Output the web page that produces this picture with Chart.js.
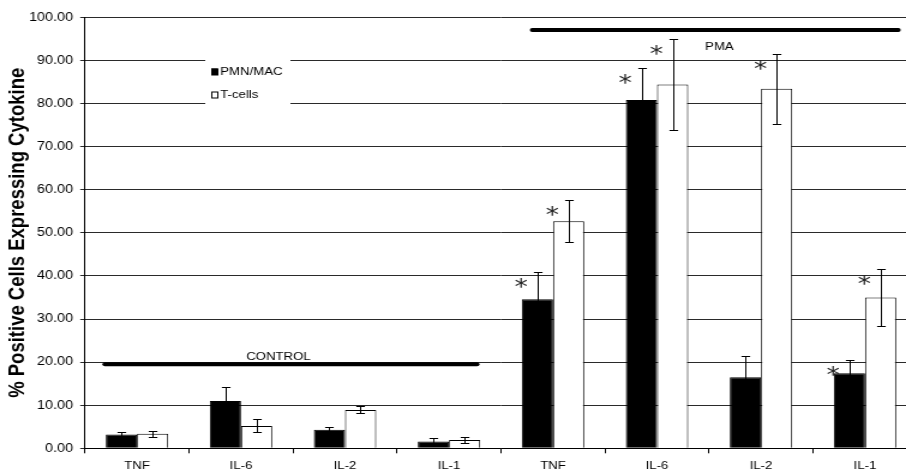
<!DOCTYPE html>
<html>
<head>
<meta charset="utf-8">
<script src="https://cdn.jsdelivr.net/npm/chart.js@4"></script>
<style>
  html, body { margin: 0; padding: 0; background: #fff; overflow: hidden; }
  #wrap { width: 766px; height: 474px; transform: scaleX(1.2); transform-origin: 0 0; }
</style>
</head>
<body>
<div id="wrap"><canvas id="chart" width="766" height="474"></canvas></div>
<script>
// Cytokine categories: first four are the control condition, last four after PMA
const categories = ['TNF', 'IL-6', 'IL-2', 'IL-1', 'TNF', 'IL-6', 'IL-2', 'IL-1'];

// % positive cells (mean) and error (SE) per cell type
const pmnMac    = [3.2, 11.0, 4.3, 1.6, 34.6, 80.8, 16.5, 17.4];
const pmnMacErr = [0.6, 3.3, 0.6, 0.9, 6.3, 7.5, 4.9, 3.2];
const tCells    = [3.4, 5.2, 8.9, 1.9, 52.7, 84.4, 83.4, 35.0];
const tCellsErr = [0.7, 1.5, 0.8, 0.7, 4.9, 10.5, 8.1, 6.6];

// significance flags (asterisk above the bar)
const pmnMacSig = [false, false, false, false, true, true, false, true];
const tCellsSig = [false, false, false, false, true, true, true, true];

// y axis ticks
const yTicks = [0, 10, 20, 30, 40, 50, 60, 70, 80, 90, 100];

const FONT = "'Liberation Sans', Arial, Helvetica, sans-serif";

// error bars with flat caps, drawn over each bar
const errorBars = {
  id: 'errorBars',
  afterDatasetsDraw(chart) {
    const ctx = chart.ctx, ys = chart.scales.y;
    ctx.save();
    ctx.strokeStyle = '#000';
    ctx.lineWidth = 1;
    chart.data.datasets.forEach((ds, di) => {
      chart.getDatasetMeta(di).data.forEach((bar, i) => {
        const v = ds.data[i], e = ds.errors[i];
        const top = Math.round(ys.getPixelForValue(v + e)) + 0.5;
        const bot = Math.round(ys.getPixelForValue(v - e)) + 0.5;
        const x = Math.round(bar.x) + 0.5;
        const cap = 3.6;
        ctx.beginPath();
        ctx.moveTo(x, top); ctx.lineTo(x, bot);
        ctx.moveTo(x - cap, top); ctx.lineTo(x + cap, top);
        ctx.moveTo(x - cap, bot); ctx.lineTo(x + cap, bot);
        ctx.stroke();
      });
    });
    ctx.restore();
  }
};

// asterisks marking significant increases, left of the error bar tip
const sigMarks = {
  id: 'sigMarks',
  afterDatasetsDraw(chart) {
    const ctx = chart.ctx, ys = chart.scales.y;
    const size = 22;
    ctx.save();
    ctx.fillStyle = '#222';
    ctx.font = `${size}px 'DejaVu Sans', sans-serif`;
    ctx.textAlign = 'center';
    ctx.textBaseline = 'alphabetic';
    chart.data.datasets.forEach((ds, di) => {
      chart.getDatasetMeta(di).data.forEach((bar, i) => {
        if (!ds.sig[i]) return;
        const tip = ys.getPixelForValue(ds.data[i] + ds.errors[i]);
        const cx = bar.x - 13.5;
        const cy = tip + 9;
        ctx.fillText('*', cx, cy + size * 0.6);
      });
    });
    ctx.restore();
  }
};

// horizontal brackets naming the CONTROL and PMA groups
const groupBrackets = {
  id: 'groupBrackets',
  afterDatasetsDraw(chart, args, opts) {
    const ctx = chart.ctx, xs = chart.scales.x, ys = chart.scales.y;
    ctx.save();
    opts.groups.forEach(g => {
      const y = ys.getPixelForValue(g.level);
      ctx.strokeStyle = '#000';
      ctx.lineWidth = 4;
      ctx.lineCap = 'round';
      ctx.beginPath();
      ctx.moveTo(xs.getPixelForValue(g.from), y);
      ctx.lineTo(xs.getPixelForValue(g.to), y);
      ctx.stroke();
      ctx.fillStyle = '#000';
      ctx.font = `11px ${FONT}`;
      ctx.textAlign = 'center';
      ctx.textBaseline = 'middle';
      ctx.fillText(g.label, xs.getPixelForValue(g.labelAt), ys.getPixelForValue(g.labelLevel));
    });
    ctx.restore();
  }
};

// boxed legend sitting inside the plot, over the grid
const boxLegend = {
  id: 'boxLegend',
  beforeDatasetsDraw(chart, args, opts) {
    const ctx = chart.ctx;
    ctx.save();
    ctx.fillStyle = '#fff';
    ctx.fillRect(opts.x, opts.y, opts.w, opts.h);
    ctx.font = `11px ${FONT}`;
    ctx.textAlign = 'left';
    ctx.textBaseline = 'middle';
    chart.data.datasets.forEach((ds, i) => {
      const cy = opts.firstRow + i * opts.rowGap;
      ctx.fillStyle = ds.backgroundColor;
      ctx.strokeStyle = '#000';
      ctx.lineWidth = 1;
      ctx.fillRect(opts.x + 5, cy - 3, 5.5, 6.5);
      ctx.strokeRect(opts.x + 5.5, cy - 2.5, 5, 6);
      ctx.fillStyle = '#000';
      ctx.fillText(ds.label, opts.x + 12.5, cy + 0.5);
    });
    ctx.restore();
  }
};

new Chart(document.getElementById('chart'), {
  type: 'bar',
  data: {
    labels: categories,
    datasets: [
      {
        label: 'PMN/MAC', data: pmnMac, errors: pmnMacErr, sig: pmnMacSig,
        backgroundColor: '#000', borderColor: '#000', borderWidth: 1,
        categoryPercentage: 0.6, barPercentage: 1.0
      },
      {
        label: 'T-cells', data: tCells, errors: tCellsErr, sig: tCellsSig,
        backgroundColor: '#fff', borderColor: '#000', borderWidth: 1,
        categoryPercentage: 0.6, barPercentage: 1.0
      }
    ]
  },
  options: {
    responsive: false,
    animation: false,
    devicePixelRatio: 1,
    layout: { padding: { top: 17.3, right: 1.83, bottom: 0, left: 0 } },
    plugins: {
      legend: { display: false },
      tooltip: { enabled: false },
      boxLegend: { x: 171, y: 42, w: 71, h: 80, firstRow: 71.5, rowGap: 23 },
      groupBrackets: {
        groups: [
          { label: 'CONTROL', from: -0.31, to: 3.27, level: 19.5, labelAt: 1.36, labelLevel: 21.3 },
          { label: 'PMA', from: 3.8, to: 7.32, level: 97.05, labelAt: 5.6, labelLevel: 93.1 }
        ]
      }
    },
    scales: {
      x: {
        offset: true,
        grid: { display: true, drawOnChartArea: false, drawTicks: true, tickLength: 5, color: '#000', offset: true },
        border: { display: true, color: '#000', width: 1 },
        ticks: { color: '#000', font: { family: FONT, size: 11 }, padding: 6, maxRotation: 0, autoSkip: false },
        afterFit(s) { s.height = 474 - 448.3; }
      },
      y: {
        min: 0, max: 100,
        afterBuildTicks(s) { s.ticks = yTicks.map(v => ({ value: v })); },
        ticks: { color: '#000', font: { family: FONT, size: 12 }, padding: 6, callback: v => Number(v).toFixed(2) },
        grid: { color: '#2a2a2a', lineWidth: 1, tickLength: 4 },
        border: { display: true, color: '#000', width: 1 },
        title: {
          display: true, text: '% Positive Cells Expressing Cytokine', color: '#000',
          font: { family: FONT, size: 18.5, weight: 'bold' }, padding: 4
        },
        afterFit(s) { s.width = 70.83; }
      }
    }
  },
  plugins: [boxLegend, errorBars, sigMarks, groupBrackets]
});
</script>
</body>
</html>
